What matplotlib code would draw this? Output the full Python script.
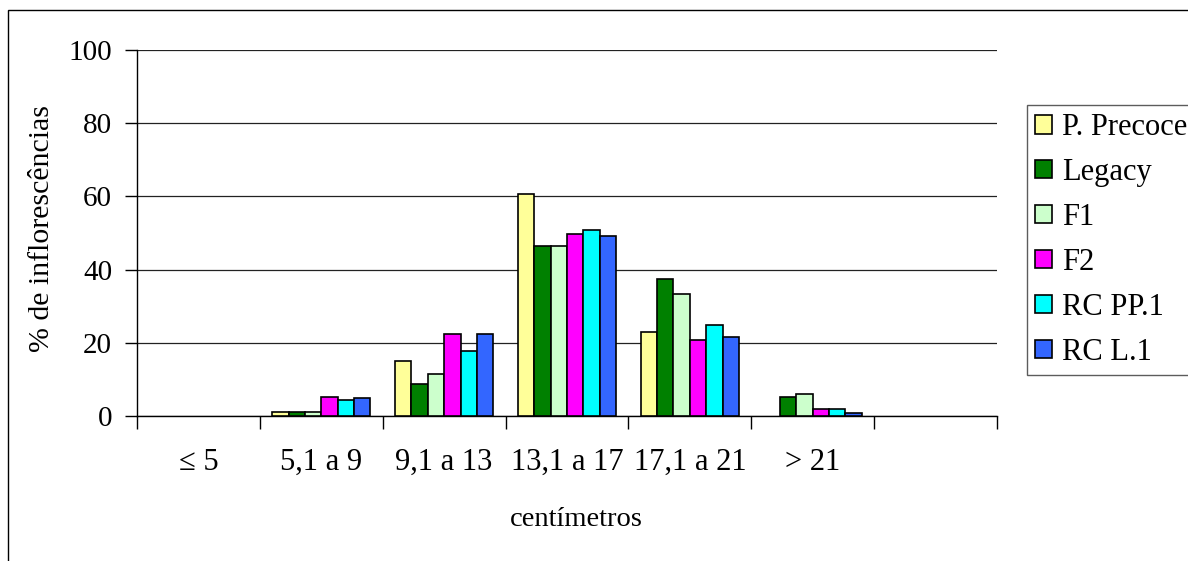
import numpy as np
import matplotlib.pyplot as plt
from matplotlib.patches import Rectangle, Patch

plt.rcParams['font.family'] = ['Liberation Serif', 'DejaVu Serif']

# size classes (cm) and percentage of inflorescences per genotype
categorias = ['\u2264 5', '5,1 a 9', '9,1 a 13', '13,1 a 17', '17,1 a 21', '> 21', '']
series = ['P. Precoce', 'Legacy', 'F1', 'F2', 'RC PP.1', 'RC L.1']
p_precoce = [0, 1.1, 15.1, 60.7, 22.9, 0, 0]
legacy = [0, 1.1, 8.8, 46.5, 37.3, 5.1, 0]
f1 = [0, 1.2, 11.5, 46.4, 33.3, 6.1, 0]
f2 = [0, 5.3, 22.4, 49.6, 20.7, 1.8, 0]
rc_pp1 = [0, 4.3, 17.7, 50.7, 24.9, 1.9, 0]
rc_l1 = [0, 4.8, 22.5, 49.1, 21.7, 0.9, 0]
valores = [p_precoce, legacy, f1, f2, rc_pp1, rc_l1]
cores = ['#FFFF99', '#008000', '#CCFFCC', '#FF00FF', '#00FFFF', '#3366FF']

W, H = 1188, 561
fig = plt.figure(figsize=(W / 100, H / 100), dpi=100)
# outer chart border (runs past the right and bottom edges)
fig.patches.append(Rectangle((8 / W, -0.1), 1.2, 1 - 10 / H + 0.1,
                             transform=fig.transFigure, fill=False,
                             edgecolor='black', linewidth=1))

ax = fig.add_axes([137 / W, 1 - 416 / H, 860 / W, 366 / H])

x = np.arange(len(categorias))
largura = 0.8 / len(series)
for i, (nome, v, c) in enumerate(zip(series, valores, cores)):
    pos = x - 0.4 + largura * (i + 0.5)
    barras = ax.bar(pos, v, width=largura, color=c, edgecolor='black',
                    linewidth=1.2, zorder=3)
    # empty classes get no bar at all
    for b, val in zip(barras, v):
        if val == 0:
            b.set_visible(False)

ax.set_xlim(-0.5, len(categorias) - 0.5)
ax.set_ylim(0, 100)
ax.set_yticks(range(0, 101, 20))
ax.yaxis.grid(True, color='#222222', linewidth=0.9, zorder=0)
ax.tick_params(axis='y', labelsize=21, length=9, width=1, direction='out', pad=9)

# ticks at class boundaries, labels centred in each class
ax.set_xticks(np.arange(-0.5, len(categorias), 1.0))
ax.set_xticklabels([])
ax.set_xticks(x, minor=True)
ax.set_xticklabels(categorias, minor=True)
ax.tick_params(axis='x', which='major', length=9, width=1, direction='out')
ax.tick_params(axis='x', which='minor', length=0, labelsize=22, pad=23)

for s in ['top', 'right']:
    ax.spines[s].set_visible(False)
ax.spines['left'].set_linewidth(1)
ax.spines['bottom'].set_linewidth(1)

ax.set_xlabel('centímetros', fontsize=20.5)
ax.xaxis.label.set_va('center')
ax.xaxis.set_label_coords((576 - 137) / 860, (H - 520 - 145) / 366)
ax.set_ylabel('% de inflorescências', fontsize=21.5)
ax.yaxis.label.set_va('center')
ax.yaxis.set_label_coords((42 - 137) / 860, (H - 228 - 145) / 366)

handles = [Patch(facecolor=c, edgecolor='black', linewidth=1.2) for c in cores]
leg = fig.legend(handles, series, loc='lower left',
                 bbox_to_anchor=(1027 / W, 1 - 375 / H),
                 fontsize=22, frameon=True, fancybox=False, edgecolor='#333333',
                 handlelength=0.555, handleheight=0.555, handletextpad=0.33,
                 labelspacing=0.52, borderpad=0.275, borderaxespad=0)
leg.get_frame().set_linewidth(1)

fig.savefig('out.png', dpi=100)
